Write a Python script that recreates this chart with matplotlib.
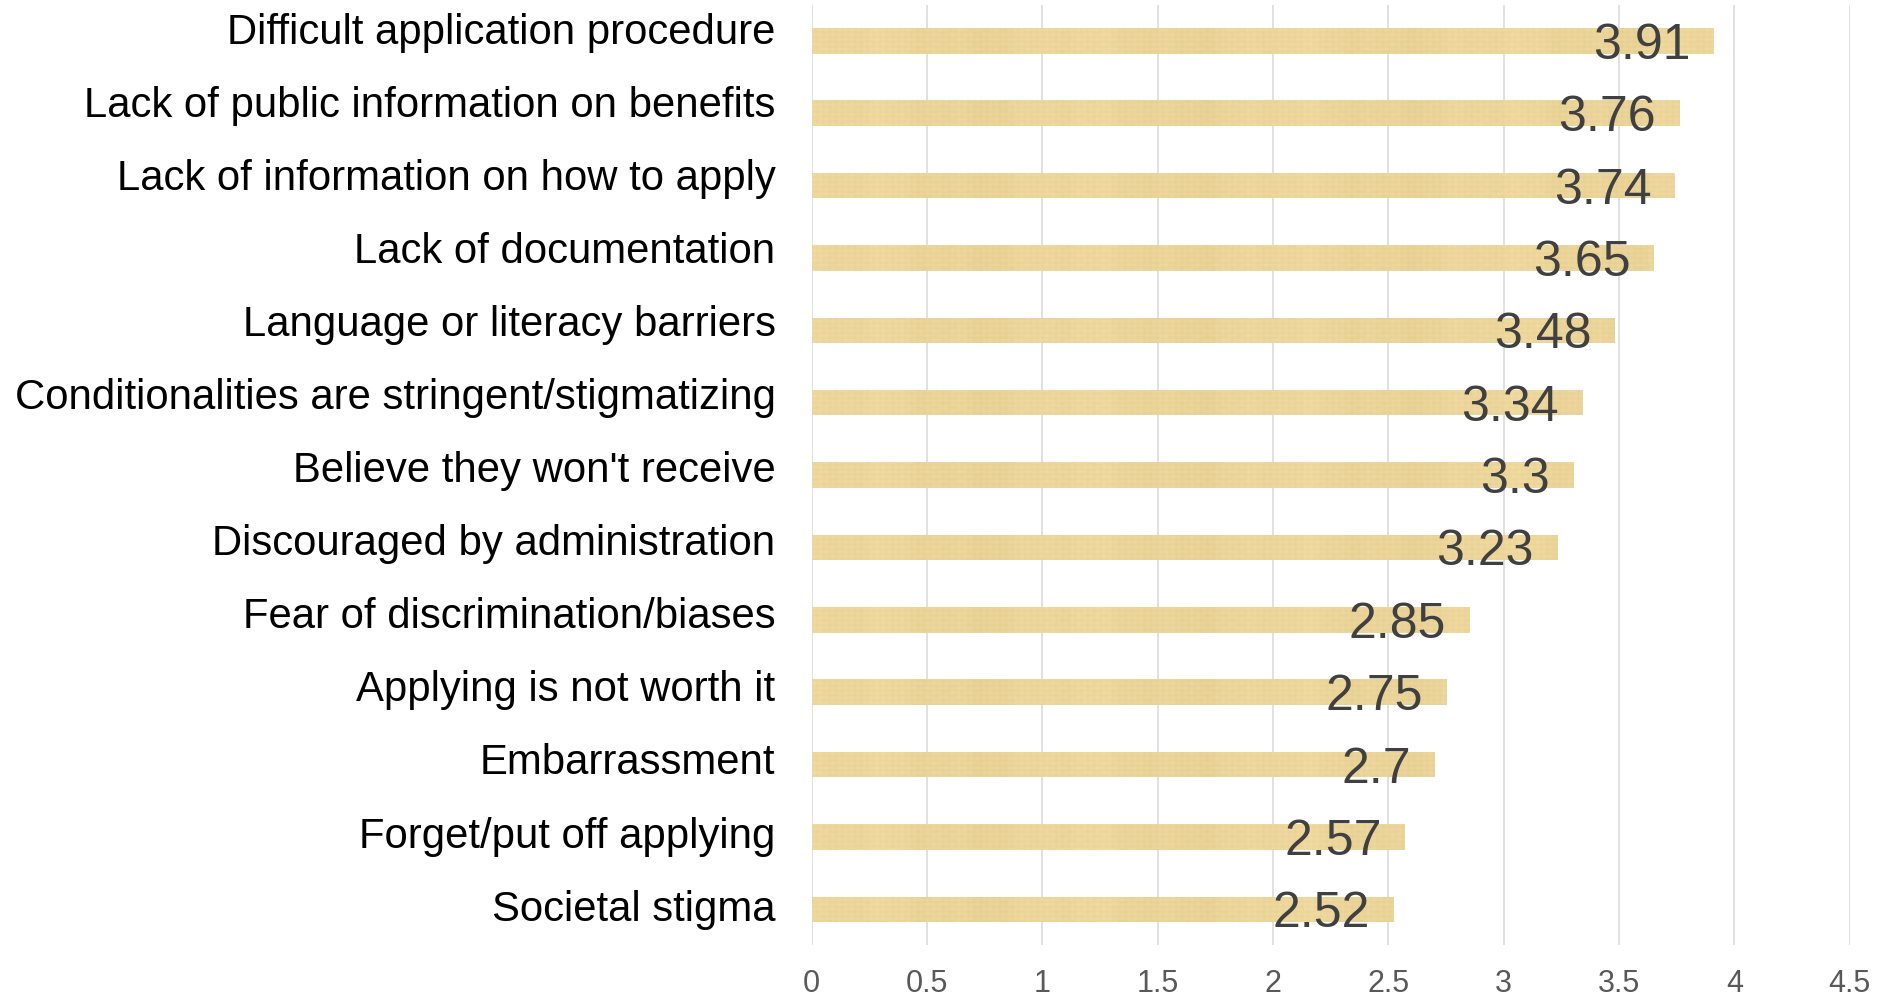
import numpy as np
import matplotlib
matplotlib.use("Agg")
import matplotlib.pyplot as plt
from matplotlib.transforms import ScaledTranslation

plt.rcParams['font.family'] = ['Liberation Sans', 'DejaVu Sans']

# Barriers to applying for benefits, mean score
barriers = [
    "Difficult application procedure",
    "Lack of public information on benefits",
    "Lack of information on how to apply",
    "Lack of documentation",
    "Language or literacy barriers",
    "Conditionalities are stringent/stigmatizing",
    "Believe they won't receive",
    "Discouraged by administration",
    "Fear of discrimination/biases",
    "Applying is not worth it",
    "Embarrassment",
    "Forget/put off applying",
    "Societal stigma",
]
scores = [3.91, 3.76, 3.74, 3.65, 3.48, 3.34, 3.3, 3.23, 2.85, 2.75, 2.7, 2.57, 2.52]
x_ticks = [0, 0.5, 1, 1.5, 2, 2.5, 3, 3.5, 4, 4.5]
x_tick_labels = ["0", "0.5", "1", "1.5", "2", "2.5", "3", "3.5", "4", "4.5"]

BAR_COLOR = "#ECD59A"
GRID_COLOR = "#D9D9D9"

fig = plt.figure(figsize=(18.77, 9.97), dpi=100)
ax = fig.add_axes([0.4324, 0.0517, 0.5530, 0.9437])

ypos = np.arange(len(barriers))
bars = ax.barh(ypos, scores, height=0.352, color=BAR_COLOR, zorder=2)

# Parchment-like fill texture shared by all bars
th, tw = 940, 1040
gx = np.arange(tw)[None, :]
gy = np.arange(th)[:, None]
streaks = (0.5 * np.sin(2 * np.pi * gx / 213.0)
           + 0.3 * np.sin(2 * np.pi * gx / 71.0 + 1.3)
           + 0.2 * np.sin(2 * np.pi * gx / 29.0 + 0.4))
fine = (0.5 * np.sin(2 * np.pi * gy / 4.7)
        + 0.35 * np.sin(2 * np.pi * gx / 6.3)
        + 0.25 * np.sin(2 * np.pi * gx / 17.0) * np.sin(2 * np.pi * gy / 9.0))
shade = 3.5 * streaks + 3.5 * fine
base = np.array([236, 213, 154], dtype=float)
tex = np.clip(base[None, None, :] + shade[..., None] * np.array([1.0, 1.1, 1.35]), 0, 255) / 255.0
for b in bars:
    im = ax.imshow(tex, extent=(0, 4.5, 12.5, -0.5), aspect='auto',
                   interpolation='bilinear', zorder=2.5)
    im.set_clip_path(b)

for y, v in zip(ypos, scores):
    ax.annotate(f"{v:g}", xy=(v, y), xytext=(-16.5, -13), textcoords='offset points',
                ha='right', va='baseline', fontsize=36, color='#404040', zorder=4)

ax.set_xlim(0, 4.5)
ax.set_ylim(12.5, -0.5)
ax.set_xticks(x_ticks)
ax.set_xticklabels(x_tick_labels)
ax.set_yticks(ypos)
ax.set_yticklabels(barriers)

ax.xaxis.grid(True, color=GRID_COLOR, linewidth=1.1)
ax.yaxis.grid(False)
ax.set_axisbelow(True)
for s in ax.spines.values():
    s.set_visible(False)

ax.tick_params(axis='x', length=0, pad=17, labelsize=22, labelcolor='#595959')
ax.tick_params(axis='y', length=0, pad=26, labelsize=30.2, labelcolor='#000000')

# Category labels sit a little above their bars, less so further down
n = len(barriers)
for i, lbl in enumerate(ax.get_yticklabels()):
    lift = (9.0 - 6.0 * i / (n - 1)) / 72
    lbl.set_transform(lbl.get_transform() + ScaledTranslation(0, lift, fig.dpi_scale_trans))

fig.savefig("out.png", dpi=100, facecolor='white')
